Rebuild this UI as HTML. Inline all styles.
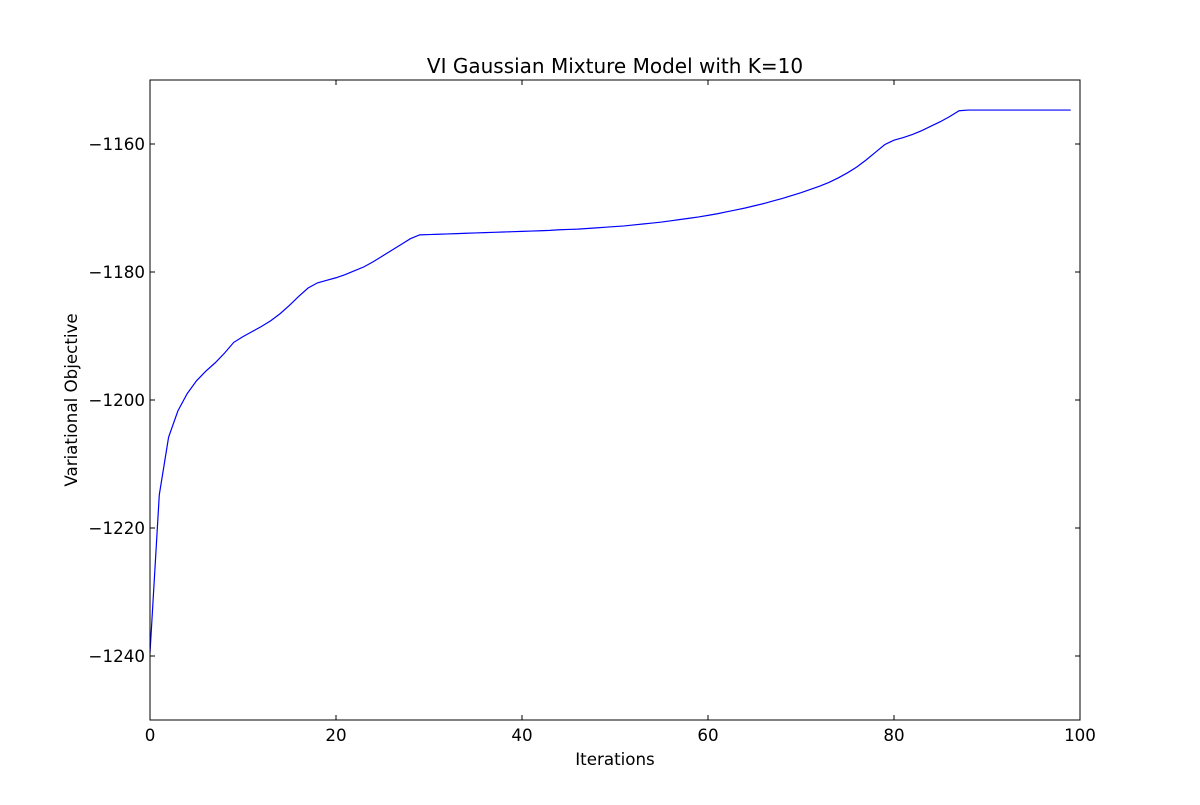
<!DOCTYPE html>
<html><head><meta charset="utf-8"><style>
body{margin:0;background:#fff}
svg text{font-family:"DejaVu Sans","Liberation Sans",sans-serif;fill:#000}
</style></head><body>
<svg id="chart" width="1200" height="800" xmlns="http://www.w3.org/2000/svg">
<rect width="1200" height="800" fill="#fff"/>
<text x="615" y="73" font-size="20" text-anchor="middle">VI Gaussian Mixture Model with K=10</text>
<text x="615" y="765" font-size="16.7" text-anchor="middle">Iterations</text>
<text transform="translate(77,400) rotate(-90)" font-size="16.7" text-anchor="middle">Variational Objective</text>
<g id="ticks"></g>
<path id="line" fill="none" stroke="#0000ff" stroke-width="1.2"/>
<rect x="150" y="80" width="930" height="640" fill="none" stroke="#000" stroke-width="1"/>
</svg>
<script>
const xTicks=[0,20,40,60,80,100];
const yTicks=[-1240,-1220,-1200,-1180,-1160];
const yTickLabels=["\u22121240","\u22121220","\u22121200","\u22121180","\u22121160"];
const objective=[-1239.5,-1214.8,-1205.8,-1201.7,-1199,-1197,-1195.5,-1194.2,-1192.7,-1191,
-1190.1,-1189.3,-1188.5,-1187.6,-1186.5,-1185.2,-1183.8,-1182.5,-1181.7,-1181.3,
-1180.9,-1180.4,-1179.8,-1179.2,-1178.4,-1177.5,-1176.6,-1175.7,-1174.8,-1174.2,
-1174.15,-1174.1,-1174.05,-1174,-1173.95,-1173.9,-1173.85,-1173.8,-1173.75,-1173.7,
-1173.65,-1173.6,-1173.55,-1173.5,-1173.4,-1173.35,-1173.3,-1173.2,-1173.1,-1173,
-1172.9,-1172.8,-1172.65,-1172.5,-1172.35,-1172.2,-1172,-1171.8,-1171.6,-1171.4,
-1171.15,-1170.9,-1170.6,-1170.3,-1170,-1169.65,-1169.3,-1168.9,-1168.5,-1168.05,
-1167.6,-1167.1,-1166.6,-1166,-1165.3,-1164.5,-1163.6,-1162.5,-1161.3,-1160.1,
-1159.4,-1159,-1158.5,-1157.9,-1157.2,-1156.5,-1155.7,-1154.8,-1154.7,-1154.7,
-1154.7,-1154.7,-1154.7,-1154.7,-1154.7,-1154.7,-1154.7,-1154.7,-1154.7,-1154.7];
const X0=150,X1=1080,Y0=720,Y1=80;
const xs=v=>X0+(v-0)/(100-0)*(X1-X0);
const ys=v=>Y0-(v-(-1250))/(100)*(Y0-Y1);
const NS="http://www.w3.org/2000/svg";
const g=document.getElementById('ticks');
function mk(t,a){const e=document.createElementNS(NS,t);for(const k in a)e.setAttribute(k,a[k]);return e;}
xTicks.forEach(v=>{
  const x=xs(v);
  const t1=mk('line',{x1:x,x2:x,y1:Y0,y2:Y0-5,stroke:'#000'});
  
  
  g.appendChild(t1);
  const t2=mk('line',{x1:x,x2:x,y1:Y1,y2:Y1+5,stroke:'#000'});
  
  
  g.appendChild(t2);
  const tx=mk('text',{x:x,y:Y0+21,'font-size':'16.7','text-anchor':'middle'});
  
  
  tx.textContent=String(v);g.appendChild(tx);
});
yTicks.forEach((v,i)=>{
  const y=ys(v);
  const t1=mk('line',{x1:X0,x2:X0+5,y1:y,y2:y,stroke:'#000'});
  
  
  g.appendChild(t1);
  const t2=mk('line',{x1:X1,x2:X1-5,y1:y,y2:y,stroke:'#000'});
  
  
  g.appendChild(t2);
  const tx=mk('text',{x:X0-5,y:y+6,'font-size':'16.7','text-anchor':'end'});
  
  
  tx.textContent=yTickLabels[i];g.appendChild(tx);
});
document.getElementById('line').setAttribute('d',objective.map((v,i)=>(i?'L':'M')+xs(i).toFixed(2)+','+ys(v).toFixed(2)).join(''));
</script>
</body></html>
